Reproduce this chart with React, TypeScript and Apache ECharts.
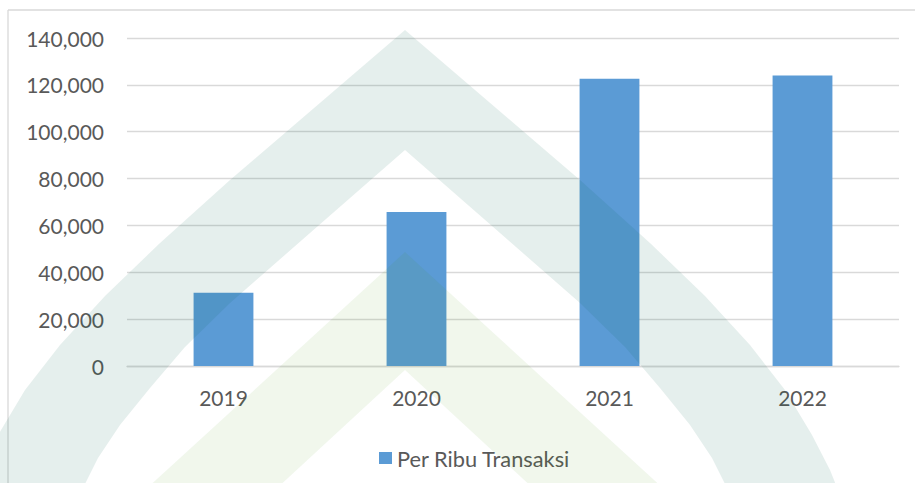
import React, { useEffect, useRef } from 'react';
import * as echarts from 'echarts';

const categories = ['2019', '2020', '2021', '2022'];
const values = [31300, 65700, 122600, 124000];
const seriesName = 'Per Ribu Transaksi';
const yMin = 0;
const yMax = 140000;
const yInterval = 20000;

type Pt = [number, number];
const mirror = (pts: Pt[]): Pt[] => pts.map(([x, y]) => [810 - x, y] as Pt);
const chevron = (outerR: Pt[], innerR: Pt[]): Pt[] => [
  ...mirror(outerR).reverse(),
  ...outerR.slice(1),
  ...innerR.slice().reverse(),
  ...mirror(innerR).slice(1),
];

export default function App() {
  const ref = useRef<HTMLDivElement>(null);
  useEffect(() => {
    const chart = echarts.init(ref.current!, null, { renderer: 'svg' });
    const font = 'Lato';
    const textColor = '#595959';

    const tealOuterR: Pt[] = [[405, 30], [580, 180], [650, 243], [705, 296], [750, 345], [785, 390], [812, 435], [830, 470], [838, 490]];
    const tealInnerR: Pt[] = [[405, 150], [500, 233], [580, 303], [625, 347], [660, 388], [690, 425], [712, 458], [728, 490]];
    const greenOuterR: Pt[] = [[405, 252], [665, 490]];
    const greenInnerR: Pt[] = [[405, 370], [535, 490]];

    chart.setOption({
      animation: false,
      backgroundColor: '#ffffff',
      grid: { left: 127, right: 16, top: 38, bottom: 117 },
      legend: {
        left: 374,
        top: 442,
        icon: 'rect',
        itemWidth: 13,
        itemHeight: 12,
        textStyle: { color: textColor, fontSize: 21.8, fontFamily: font },
        data: [seriesName],
      },
      xAxis: {
        type: 'category',
        data: categories,
        axisLine: { lineStyle: { color: '#d9d9d9', width: 1.3 } },
        axisTick: { show: false },
        axisLabel: { color: textColor, fontSize: 21, fontFamily: font, margin: 21 },
      },
      yAxis: {
        type: 'value',
        min: yMin,
        max: yMax,
        interval: yInterval,
        axisLine: { show: false },
        axisTick: { show: false },
        splitLine: { lineStyle: { color: '#d9d9d9', width: 1.3 } },
        axisLabel: {
          color: textColor,
          fontSize: 21,
          fontFamily: font,
          margin: 23,
          formatter: (v: number) => v.toLocaleString('en-US'),
        },
      },
      series: [
        {
          name: seriesName,
          type: 'bar',
          data: values,
          barWidth: '31%',
          itemStyle: { color: '#5b9bd5' },
        },
      ],
      graphic: [
        {
          type: 'line',
          silent: true,
          z: 50,
          shape: { x1: 8, y1: 10, x2: 915, y2: 10 },
          style: { stroke: '#d9d9d9', lineWidth: 1.3 },
        },
        {
          type: 'line',
          silent: true,
          z: 50,
          shape: { x1: 8, y1: 10, x2: 8, y2: 483 },
          style: { stroke: '#d9d9d9', lineWidth: 1.3 },
        },
        {
          type: 'polygon',
          silent: true,
          z: 100,
          shape: { points: chevron(tealOuterR, tealInnerR) },
          style: { fill: 'rgba(0,100,80,0.1)' },
        },
        {
          type: 'polygon',
          silent: true,
          z: 100,
          shape: { points: chevron(greenOuterR, greenInnerR) },
          style: { fill: 'rgba(70,145,0,0.075)' },
        },
      ],
    });
    return () => chart.dispose();
  }, []);
  return (
    <div
      ref={ref}
      style={{ position: 'absolute', left: 0, top: 0, width: 915, height: 483, background: '#fff' }}
    />
  );
}
